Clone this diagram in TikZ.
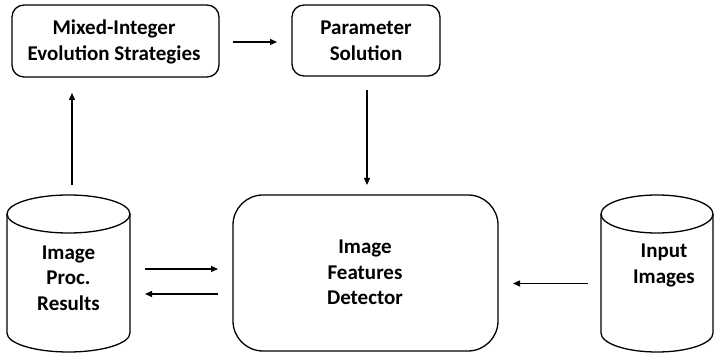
\documentclass[tikz,border=0pt]{standalone}
\usepackage{fontspec}
\setmainfont{Carlito}
\usetikzlibrary{arrows.meta}
\begin{document}
\begin{tikzpicture}[x=1pt,y=1pt,line width=1.3pt,
  box/.style={draw,rounded corners=12pt,inner sep=0pt,outer sep=0pt},
  cylbox/.style={inner sep=0pt,outer sep=0pt},
  lbl/.style={align=center,font=\fontsize{21}{25.5}\selectfont\bfseries},
  arr/.style={-{Triangle[length=7pt,width=6pt]}}]
\useasboundingbox (0,0) rectangle (716,353);
% top boxes
\node[box,minimum width=207pt,minimum height=72pt] (mies) at (115.5,312) {};
\node[lbl] (miestext) at (114,311) {Mixed-Integer\\Evolution Strategies};
\node[box,minimum width=148pt,minimum height=71pt] (ps) at (366,312.5) {};
\node[lbl] (pstext) at (366,312) {Parameter\\Solution};
% detector
\node[box,rounded corners=30pt,minimum width=265pt,minimum height=156pt] (ifd) at (365.5,80) {};
\node[lbl] (ifdtext) at (365,80.5) {Image\\Features\\Detector};
% cylinders
\node[cylbox,minimum width=123pt,minimum height=157pt] (ipr) at (68.5,79.5) {};
\draw ([yshift=-19pt]ipr.north west) -- ([yshift=19pt]ipr.south west)
  arc[start angle=180,end angle=360,x radius=61.5pt,y radius=19pt]
  -- ([yshift=-19pt]ipr.north east);
\draw ([yshift=-19pt]ipr.north) ellipse[x radius=61.5pt,y radius=19pt];
\node[lbl] (iprtext) at (68.5,75) {Image\\Proc.\\Results};
\node[cylbox,minimum width=112pt,minimum height=157pt] (inp) at (657,79.5) {};
\draw ([yshift=-19pt]inp.north west) -- ([yshift=19pt]inp.south west)
  arc[start angle=180,end angle=360,x radius=56pt,y radius=19pt]
  -- ([yshift=-19pt]inp.north east);
\draw ([yshift=-19pt]inp.north) ellipse[x radius=56pt,y radius=19pt];
\node[lbl] (inptext) at (664,87.5) {Input\\Images};
% connectors
\coordinate (a1) at ([yshift=-1pt]mies.east);
\draw[arr,shorten <=14pt,shorten >=15pt] (a1) -- (a1 -| ps.west);
\coordinate (a2) at ([xshift=1pt]ps.south);
\draw[arr,shorten <=14pt,shorten >=10pt] (a2) -- (a2 |- ifd.north);
\coordinate (a3) at ([xshift=3.5pt]ipr.north);
\draw[arr,shorten <=10pt,shorten >=16pt] (a3) -- (a3 |- mies.south);
\coordinate (r1) at ([yshift=4pt]ifd.west);
\draw[arr,shorten <=15pt,shorten >=15pt] (ipr.east |- r1) -- (r1);
\coordinate (r2) at ([yshift=-21pt]ifd.west);
\draw[arr,shorten <=15pt,shorten >=15pt] (r2) -- (ipr.east |- r2);
\coordinate (r3) at ([yshift=-10pt]inp.west);
\draw[arr,shorten <=13pt,shorten >=15pt] (r3) -- (r3 -| ifd.east);
\end{tikzpicture}
\end{document}
